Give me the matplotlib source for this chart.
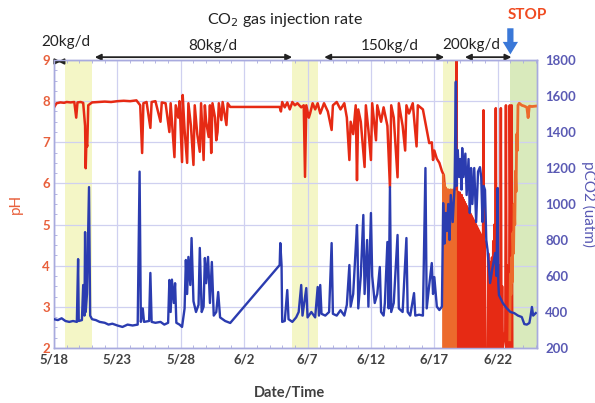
import matplotlib
matplotlib.use("Agg")
import matplotlib.pyplot as plt
from matplotlib.ticker import MultipleLocator

plt.rcParams['font.family'] = ['Lato', 'DejaVu Sans']

# ---- data (x = days since 5/18) ----
xtick_days = [0, 5, 10, 15, 20, 25, 30, 35]
xtick_labels = ["5/18", "5/23", "5/28", "6/2", "6/7", "6/12", "6/17", "6/22"]

ph_days = [0, 0.2, 0.5, 0.8, 1.0, 1.3, 1.6, 1.75, 1.85, 2.1, 2.3, 2.45, 2.5, 2.55, 2.62, 2.7,
           3.0, 3.5, 4.0, 4.5, 5.0, 5.5, 6.0, 6.5, 6.8, 6.95, 7.05, 7.3, 7.6, 7.7, 8.0, 8.4,
           8.5, 8.8, 9.1, 9.2, 9.5, 9.6, 9.8, 9.9, 10.1, 10.15, 10.3, 10.5, 10.6, 10.8, 11.0,
           11.1, 11.3, 11.5, 11.6, 11.8, 11.9, 12.0, 12.2, 12.3, 12.4, 12.5, 12.7, 12.8, 12.9,
           13.0, 13.2, 13.3, 13.6, 13.7, 13.9, 17.8, 17.9, 18.0, 18.2, 18.4, 18.6, 18.8, 19.0,
           19.2, 19.5, 19.7, 19.8, 19.9, 20.1, 20.2, 20.4, 20.6, 20.8, 21.0, 21.3, 21.6, 21.9,
           22.0, 22.3, 22.6, 22.9, 23.1, 23.3, 23.4, 23.6, 23.8, 23.9, 24.0, 24.2, 24.5, 24.6,
           24.8, 25.0, 25.1, 25.4, 25.5, 25.8, 26.0, 26.3, 26.5, 26.6, 26.8, 27.1, 27.2, 27.5,
           27.7, 27.8, 28.0, 28.3, 28.6, 28.7, 28.9, 29.1, 29.4, 29.6, 29.8, 29.9, 30.0, 30.2,
           30.3, 30.4, 30.6, 30.75,
           31.72, 31.76, 31.8, 31.84, 31.88, 31.92, 31.96, 32.0, 32.04, 32.08, 32.12, 32.16,
           32.2, 32.24, 32.28, 32.32, 32.36, 32.4, 32.44, 32.48, 32.52, 32.56, 32.6, 32.64,
           32.68, 32.72, 32.76, 32.8, 32.84, 32.88, 32.92, 32.96, 33.0, 33.04, 33.08, 33.12,
           33.16, 33.2, 33.24, 33.28, 33.32, 33.36, 33.4, 33.44, 33.48, 33.52, 33.56, 33.6,
           33.64, 33.68, 33.72, 33.76, 33.82, 33.88, 33.92, 33.96, 34.0,
           34.2, 34.25, 34.3, 34.35, 34.4, 34.45, 34.5, 34.55, 34.6, 34.65, 34.7, 34.75, 34.8,
           34.85, 34.9, 34.95, 35.0, 35.05, 35.1, 35.15, 35.2, 35.25, 35.3, 35.35, 35.4,
           35.6, 35.65, 35.7, 35.75, 35.8, 35.85, 35.9, 35.95, 36.05, 36.1, 36.15]
ph_vals = [7.85, 7.95, 7.97, 7.96, 7.98, 7.97, 7.98, 7.6, 7.97, 7.98, 7.96, 7.4, 6.37, 7.0, 6.9, 7.9,
           7.97, 7.98, 7.99, 7.98, 8.0, 8.01, 8.0, 8.02, 7.9, 6.74, 7.95, 7.98, 7.35, 7.98, 8.0, 7.5,
           7.97, 7.95, 7.25, 7.95, 6.64, 7.9, 7.6, 8.0, 6.52, 8.15, 7.3, 6.5, 7.95, 7.4, 6.45,
           7.9, 7.2, 6.77, 7.95, 6.57, 7.9, 7.5, 7.13, 7.9, 6.74, 7.95, 7.6, 7.05, 7.25,
           7.95, 7.54, 7.98, 7.42, 7.95, 7.86, 7.86, 7.75, 7.98, 7.85, 7.97, 7.8, 7.98, 7.9,
           7.95, 7.85, 7.9, 6.16, 7.9, 7.6, 7.7, 7.95, 7.8, 7.95, 7.7, 7.95, 7.75, 7.3,
           7.9, 7.98, 7.8, 7.95, 7.6, 6.57, 7.5, 7.2, 7.9, 6.08, 7.8, 7.5, 6.4, 7.9,
           7.3, 6.57, 7.95, 7.05, 7.9, 7.5, 7.85, 7.4, 5.91, 7.9, 7.6, 6.15, 7.95, 7.4,
           6.8, 7.9, 7.7, 7.95, 6.9, 7.9, 7.85, 7.8, 7.3, 6.98, 7.0, 6.57, 6.8, 6.6,
           6.55, 6.5, 6.3, 6.2,
           2.0, 9.0, 2.0, 5.8, 2.0, 5.75, 2.0, 5.78, 2.0, 5.7, 2.05, 5.72,
           2.0, 5.65, 2.0, 5.6, 2.0, 5.55, 2.0, 5.5, 2.1, 5.45, 2.0, 5.4,
           2.0, 5.35, 2.0, 5.3, 2.0, 5.25, 2.0, 5.2, 2.0, 5.15, 2.0, 5.1,
           2.0, 5.05, 2.0, 5.0, 2.0, 4.95, 2.0, 4.9, 2.0, 4.85, 2.0, 4.8,
           2.0, 4.75, 2.0, 4.7, 2.0, 7.78, 2.0, 4.6, 2.0,
           2.0, 4.3, 2.0, 4.1, 2.0, 3.8, 2.0, 4.2, 2.0, 4.6, 2.0, 5.0, 2.0,
           7.83, 2.0, 4.2, 2.0, 3.9, 2.0, 4.0, 2.0, 7.83, 2.0, 3.5, 2.0,
           2.4, 7.9, 2.0, 4.0, 2.0, 3.6, 2.0, 7.9, 2.0, 7.9, 2.0]

ph2_days = [30.7, 30.75, 30.8, 30.85, 30.9, 30.95, 31.0, 31.05, 31.1, 31.15, 31.2, 31.25,
            31.3, 31.35, 31.4, 31.45, 31.5, 31.55, 31.6, 31.65, 31.7,
            35.95, 36.0, 36.05, 36.1, 36.15, 36.2, 36.25, 36.3, 36.35, 36.4, 36.45, 36.5, 36.55,
            36.6, 36.7, 36.9, 37.1, 37.3, 37.4, 37.5, 37.7, 38.0]
ph2_vals = [6.2, 2.0, 6.0, 2.0, 5.9, 2.0, 5.85, 2.0, 5.85, 2.0, 5.8, 2.0,
            5.85, 2.0, 5.8, 2.0, 5.85, 2.0, 5.8, 2.0, 5.8,
            2.2, 3.8, 3.3, 4.2, 3.6, 4.8, 4.3, 5.5, 5.0, 6.3, 5.8, 7.2, 6.8,
            7.9, 7.95, 7.9, 7.88, 7.85, 7.6, 7.88, 7.87, 7.88]

pco2_days = [0, 0.3, 0.6, 0.9, 1.2, 1.5, 1.8, 1.9, 1.95, 2.2, 2.3, 2.4, 2.45, 2.5, 2.6, 2.76, 2.85,
             3.0, 3.3, 3.6, 4.0, 4.3, 4.6, 5.0, 5.4, 5.8, 6.2, 6.6, 6.75, 6.85, 7.0, 7.1, 7.5,
             7.6, 7.7, 8.0, 8.4, 8.7, 9.0, 9.1, 9.2, 9.3, 9.45, 9.55, 9.65, 9.9, 10.1, 10.3,
             10.4, 10.5, 10.6, 10.75, 10.85, 11.0, 11.2, 11.4, 11.5, 11.65, 11.8, 11.9, 12.0,
             12.15, 12.3, 12.45, 12.6, 12.8, 12.95, 13.1, 13.5, 13.9, 17.8, 17.85, 17.95, 18.0,
             18.2, 18.4, 18.5, 18.8, 19.1, 19.3, 19.5, 19.6, 19.9, 20.0, 20.3, 20.6, 20.8, 20.9,
             21.0, 21.1, 21.4, 21.7, 21.9, 22.0, 22.3, 22.6, 22.9, 23.1, 23.3, 23.4, 23.6, 23.9,
             23.95, 24.0, 24.2, 24.4, 24.5, 24.7, 24.8, 25.0, 25.1, 25.3, 25.5, 25.7, 25.8, 26.0,
             26.1, 26.3, 26.4, 26.5, 26.6, 26.8, 27.1, 27.2, 27.5, 27.8, 27.9, 28.1, 28.4, 28.5,
             28.8, 29.1, 29.3, 29.4, 29.6, 29.8, 29.9, 30.0, 30.2, 30.4, 30.6, 30.7, 30.8, 30.9,
             31.0, 31.1, 31.2, 31.3, 31.45, 31.6, 31.7, 31.75, 31.85, 31.95, 32.05, 32.15, 32.2,
             32.3, 32.45, 32.55, 32.7, 32.8, 32.9, 33.0, 33.15, 33.3, 33.45, 33.6, 33.7, 33.8,
             33.9, 34.0, 34.1, 34.2, 34.4, 34.6, 34.8, 34.9, 35.0, 35.05, 35.1, 35.4, 35.7, 36.0,
             36.3, 36.6, 36.9, 37.1, 37.3, 37.5, 37.6, 37.7, 37.8, 38.0]
pco2_vals = [360, 355, 365, 350, 345, 350, 345, 694, 350, 355, 550, 380, 844, 400, 500, 1094, 380,
             360, 355, 345, 340, 330, 335, 325, 317, 330, 325, 330, 1180, 345, 420, 345, 350,
             617, 345, 340, 345, 330, 340, 578, 400, 580, 450, 560, 340, 330, 317, 420,
             689, 500, 706, 550, 811, 460, 400, 440, 756, 400, 430, 700, 560,
             706, 450, 678, 380, 400, 511, 370, 350, 339, 661, 783, 660, 345,
             350, 522, 360, 345, 370, 400, 550, 380, 533, 370, 400, 370, 539, 380,
             550, 390, 380, 400, 783, 390, 380, 410, 380, 440, 661, 430, 500, 883,
             744, 420, 600, 939, 500, 800, 430, 950, 600, 450, 500, 650, 400, 380,
             450, 789, 420, 1094, 400, 450, 828, 420, 400, 811, 400, 380, 505, 380,
             385, 380, 1200, 420, 550, 672, 500, 594, 430, 411, 430, 1005, 780, 950,
             850, 1000, 800, 1050, 900, 1100, 1680, 1100, 1300, 1150, 1250, 1080, 1311,
             1150, 1280, 1050, 1250, 950, 1200, 1000, 1200, 900, 1180, 1205, 1150, 900,
             1100, 1078, 800, 744, 561, 650, 728, 600, 1089, 560, 494, 450, 422, 400,
             394, 380, 372, 333, 330, 339, 380, 428, 380, 394]

# shaded periods (days)
yellow_spans = [(0.9, 3.0), (18.8, 20.8), (30.7, 31.6)]
green_spans = [(36.0, 38.1)]

fig = plt.figure(figsize=(5.95, 4.03), dpi=100)
ax = fig.add_axes([0.0908, 0.1365, 0.8117, 0.7145])
ax2 = ax.twinx()

grid_c = "#cfd0f0"
spine_c = "#a8aade"
ph_c = "#e8552e"
blue_c = "#2b3cb0"

for a, b in yellow_spans:
    ax.axvspan(a, b, color="#f4f6c6", zorder=0, lw=0)
for a, b in green_spans:
    ax.axvspan(a, b, color="#d9eabc", zorder=0, lw=0)

ax.set_xlim(0, 38.1)
ax.set_ylim(2, 9)
ax2.set_ylim(200, 1800)

ax.set_xticks(xtick_days)
ax.set_xticklabels(xtick_labels)
ax.xaxis.set_minor_locator(MultipleLocator(1))
ax.yaxis.set_major_locator(MultipleLocator(1))
ax.yaxis.set_minor_locator(MultipleLocator(0.25))
ax2.yaxis.set_major_locator(MultipleLocator(200))

ax.grid(True, which="major", color=grid_c, lw=0.9, zorder=1)
ax.set_axisbelow(True)

ax.plot(ph_days, ph_vals, color="#e62a14", lw=1.8, zorder=3)
ax.plot(ph2_days[:21], ph2_vals[:21], color="#ec6a2c", lw=1.8, zorder=3)
ax.plot(ph2_days[21:], ph2_vals[21:], color="#ec6a2c", lw=2.0, zorder=3)
ax2.plot(pco2_days, pco2_vals, color=blue_c, lw=1.7, zorder=4)

for a in (ax, ax2):
    for s in a.spines.values():
        s.set_color(spine_c)
        s.set_linewidth(1.0)

ax.tick_params(axis="x", which="major", length=0, pad=4, labelsize=9.5, labelcolor="#404040")
ax.tick_params(axis="x", which="minor", direction="in", length=2.5, color=spine_c, top=True)
ax.tick_params(axis="y", which="major", length=0, pad=3, labelsize=9.5, labelcolor="#e8603c")
ax.tick_params(axis="y", which="minor", direction="in", length=2.5, color=spine_c)
ax2.tick_params(axis="y", length=0, pad=6, labelsize=9.5, labelcolor="#5a5ab4")
for lbl in ax.get_xticklabels() + ax.get_yticklabels() + ax2.get_yticklabels():
    lbl.set_fontweight("bold")

ax.set_ylabel("pH", color="#e8603c", fontsize=11, labelpad=14)
ax2.set_ylabel("pCO2 (uatm)", color="#5a5ab4", fontsize=11, rotation=270, labelpad=14)
fig.text(0.487, 0.025, "Date/Time", ha="center", va="center", fontsize=10.5,
         color="#404040", fontweight="bold")

# annotations on top
fig.text(0.48, 0.95, "CO$_2$ gas injection rate", ha="center", va="center", fontsize=11.5,
         color="#222222")
arr_kw = dict(arrowstyle="<|-|>", color="#222222", lw=1.3, mutation_scale=9)
ann_y = 1.01
for x0, x1 in [(3.0, 19.0), (21.1, 31.0), (32.2, 36.3)]:
    ax.annotate("", xy=(x0, ann_y), xytext=(x1, ann_y), xycoords=("data", "axes fraction"),
                textcoords=("data", "axes fraction"), arrowprops=arr_kw, annotation_clip=False)
ax.annotate("", xy=(0.1, 0.995), xytext=(0.75, 0.995), xycoords=("data", "axes fraction"),
            textcoords=("data", "axes fraction"),
            arrowprops=dict(arrowstyle="<|-|>", color="#222222", lw=1.3, mutation_scale=8),
            annotation_clip=False)
for txt, xd, yf in [("20kg/d", 0.9, 1.062), ("80kg/d", 12.5, 1.05), ("150kg/d", 26.5, 1.05),
                    ("200kg/d", 32.9, 1.052)]:
    ax.text(xd, yf, txt, transform=ax.get_xaxis_transform(), ha="center", va="center",
            fontsize=11, color="#222222", clip_on=False)

fig.text(0.886, 0.962, "STOP", ha="center", va="center", fontsize=11, color="#f04a20",
         fontweight="bold")
ax.annotate("", xy=(36.0, 1.01), xytext=(36.0, 1.12), xycoords=("data", "axes fraction"),
            textcoords=("data", "axes fraction"),
            arrowprops=dict(arrowstyle="simple,head_width=1.1,head_length=0.9,tail_width=0.45",
                            color="#3a78d8", lw=0),
            annotation_clip=False)

fig.savefig("out.png", dpi=100, facecolor="white")
